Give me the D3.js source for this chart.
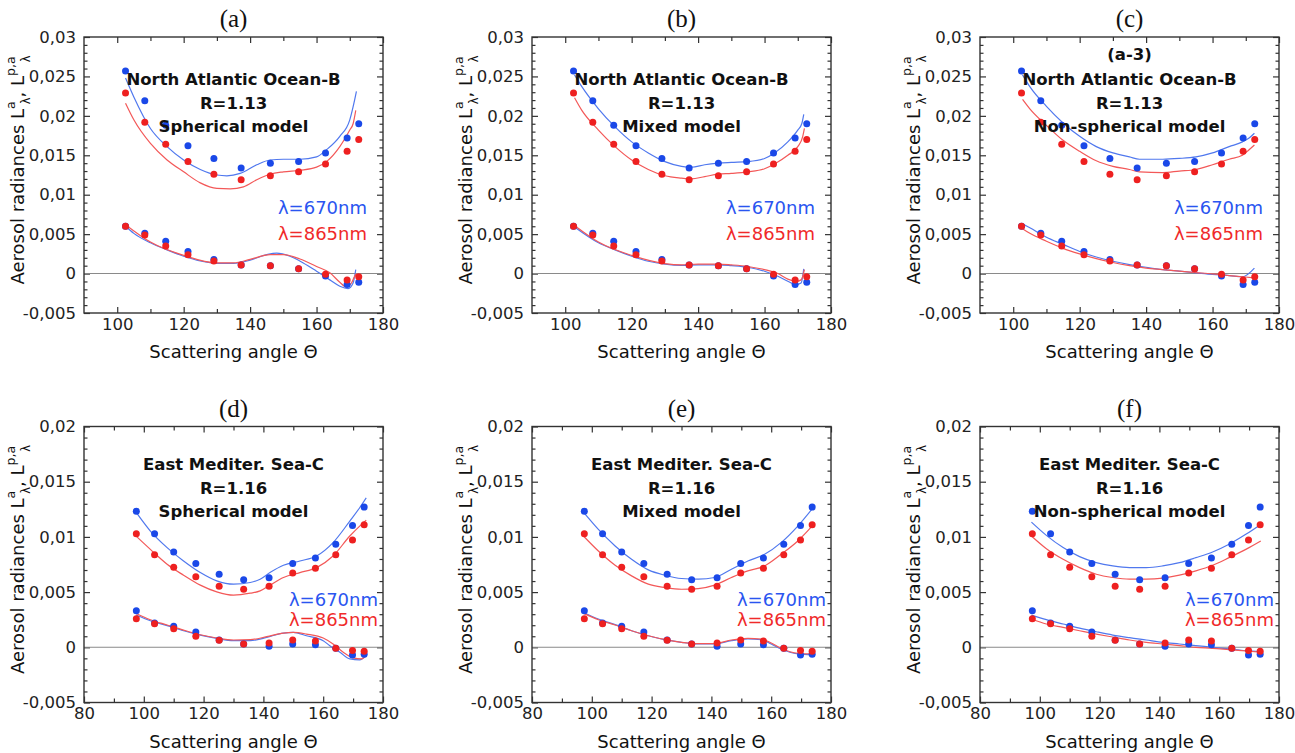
<!DOCTYPE html>
<html>
<head>
<meta charset="utf-8">
<script src="https://cdn.jsdelivr.net/npm/d3@7"></script>
<style>
  body { margin: 0; background: #fff; }
  text { font-family: "DejaVu Sans", sans-serif; }
</style>
</head>
<body>
<script>
// ---------- Measured radiances (dots) ----------
// North Atlantic Ocean-B
const anglesNA = [102.5, 108.3, 114.6, 121.3, 129.1, 137.3, 146.1, 154.6, 162.7, 169.2, 172.7];
const obsNA670 = [0.0257, 0.0219, 0.0188, 0.0162, 0.0146, 0.0134, 0.0140, 0.0142, 0.0153, 0.0172, 0.0190];
const obsNA865 = [0.0229, 0.0192, 0.0164, 0.0142, 0.0126, 0.0119, 0.0124, 0.0129, 0.0139, 0.0155, 0.0170];
const obsNApol670 = [0.0060, 0.0051, 0.0041, 0.0028, 0.0018, 0.0011, 0.0010, 0.0006, -0.0003, -0.0014, -0.0011];
const obsNApol865 = [0.0060, 0.0049, 0.0035, 0.0024, 0.0016, 0.0011, 0.0010, 0.0006, -0.0001, -0.0008, -0.0004];

// East Mediterranean Sea-C
const anglesEM = [97.5, 103.6, 110.0, 117.4, 125.2, 133.4, 141.9, 149.8, 157.4, 164.2, 169.8, 173.7];
const obsEM670 = [0.01233, 0.01029, 0.00863, 0.00758, 0.00662, 0.00611, 0.00629, 0.00758, 0.00809, 0.00933, 0.01104, 0.0127];
const obsEM865 = [0.01029, 0.00839, 0.00725, 0.00638, 0.00554, 0.00526, 0.00554, 0.00674, 0.00716, 0.00839, 0.00972, 0.0111];
const obsEMpol670 = [0.00331, 0.0022, 0.0019, 0.00138, 0.00066, 0.0003, 0.00009, 0.0003, 0.00024, -0.00009, -0.00069, -0.00063];
const obsEMpol865 = [0.00259, 0.00214, 0.00168, 0.00099, 0.00063, 0.0003, 0.00039, 0.00066, 0.00057, -0.00009, -0.0003, -0.00036];

// ---------- Model radiances (lines), [angle, value] ----------
// (a) spherical model
const sphNA670 = [[102.5,0.0248],[105,0.0224],[110,0.0184],[115,0.0161],[120,0.0144],[125,0.0132],[130,0.0125],[133,0.0124],[137,0.0127],[142,0.0138],[146,0.0144],[150,0.0145],[155,0.0145],[160,0.0148],[163,0.0157],[167,0.0174],[170,0.0195],[171.5,0.0221],[172,0.0231]];
const sphNA865 = [[102.5,0.0216],[105,0.0195],[110,0.0165],[115,0.0144],[120,0.0129],[125,0.0115],[130,0.0108],[134,0.01075],[138,0.0110],[142,0.0119],[146,0.0126],[150,0.0129],[155,0.0131],[160,0.0135],[163,0.0142],[167,0.0161],[170,0.0182],[171,0.0190],[171.8,0.0207]];
const sphNApol670 = [[102.5,0.0060],[105,0.0051],[110,0.0039],[115,0.0030],[120,0.0022],[125,0.0016],[130,0.0013],[135,0.0013],[140,0.0017],[145,0.0024],[148,0.0026],[152,0.0022],[156,0.00135],[160,0.0003],[164,-0.0008],[167,-0.0016],[169.5,-0.0019],[171,-0.0012],[171.8,0.0005]];
const sphNApol865 = [[102.5,0.0062],[110,0.0040],[120,0.0023],[130,0.00135],[135,0.00135],[140,0.0018],[146,0.0024],[150,0.0024],[155,0.00185],[160,0.0009],[164,0.0001],[167,-0.0011],[169,-0.0017],[170.5,-0.0012],[171.5,-0.0003],[172,0.0]];
// (b) mixed model
const mixNA670 = [[102.8,0.0252],[105,0.0237],[110,0.0209],[115,0.0186],[120,0.0167],[125,0.0153],[130,0.0142],[135,0.0136],[138,0.01348],[142,0.0138],[146,0.0140],[150,0.0141],[155,0.0142],[160,0.0146],[163,0.0153],[167,0.0167],[170,0.0182],[171.2,0.0190],[171.8,0.0202]];
const mixNA865 = [[102.8,0.0223],[105,0.0207],[110,0.0182],[115,0.0161],[120,0.0144],[125,0.0132],[130,0.0124],[135,0.0121],[138,0.0120],[142,0.0123],[146,0.0126],[150,0.0127],[155,0.0129],[160,0.0133],[163,0.0139],[167,0.0150],[170,0.0161],[171.5,0.0174],[172,0.0184]];
const mixNApol670 = [[102.8,0.0059],[110,0.0039],[115,0.0030],[120,0.0022],[125,0.00156],[130,0.0012],[135,0.00105],[140,0.0011],[146,0.0011],[150,0.0010],[155,0.0008],[160,0.0003],[164,-0.00034],[167,-0.00097],[169.5,-0.0014],[171,-0.0012],[171.8,0.0006]];
const mixNApol865 = [[102.8,0.0061],[110,0.0040],[120,0.0023],[130,0.00126],[135,0.0011],[140,0.0012],[146,0.0012],[150,0.0011],[155,0.0009],[160,0.0005],[164,0.0],[167,-0.0007],[169.5,-0.0010],[171,-0.0008],[172,0.0005]];
// (c) non-spherical model
const nsNA670 = [[102.8,0.0252],[105,0.0237],[110,0.0212],[115,0.0191],[120,0.0174],[125,0.0161],[130,0.0153],[135,0.0148],[138,0.0145],[145,0.0145],[150,0.0146],[155,0.0148],[160,0.0153],[165,0.0161],[169,0.0167],[171,0.0172],[172.6,0.0178]];
const nsNA865 = [[102.8,0.0221],[105,0.0209],[110,0.0188],[115,0.0169],[120,0.0155],[125,0.0143],[130,0.0136],[135,0.0132],[138,0.0129],[145,0.0128],[150,0.0130],[155,0.0132],[160,0.0138],[165,0.0145],[169,0.0150],[171,0.0157],[172.6,0.0163]];
const nsNApol670 = [[102.8,0.0063],[105,0.0058],[110,0.0046],[115,0.0037],[120,0.0028],[125,0.0021],[130,0.00156],[135,0.00114],[140,0.0008],[145,0.0005],[150,0.0003],[155,0.0001],[160,-0.0001],[165,-0.00025],[169,-0.0004],[172.6,0.0007]];
const nsNApol865 = [[102.8,0.0057],[105,0.0051],[110,0.0041],[115,0.0032],[120,0.0025],[125,0.0019],[130,0.0014],[135,0.0010],[140,0.0007],[145,0.0005],[150,0.0003],[155,0.00013],[160,-0.00004],[165,-0.00025],[169,-0.0004],[172.6,-0.00055]];
// (d) spherical model
const sphEM670 = [[97.4,0.01224],[102.2,0.01053],[107.8,0.00903],[113.3,0.00782],[118.9,0.00677],[124.4,0.00602],[130,0.00572],[135.6,0.00587],[138.9,0.00617],[142.2,0.00677],[146.7,0.00743],[152.2,0.00782],[157.8,0.00827],[163.3,0.00948],[168.9,0.01143],[172.2,0.01264],[174.4,0.01354]];
const sphEM865 = [[97.4,0.01008],[102.2,0.00887],[107.8,0.00752],[113.3,0.00653],[118.9,0.00563],[124.4,0.00502],[130,0.00472],[135.6,0.0049],[138.9,0.00511],[142.2,0.00563],[146.7,0.00632],[152.2,0.00677],[157.8,0.00722],[163.3,0.00827],[168.9,0.01008],[172.2,0.01098],[174.4,0.01152]];
const sphEMpol670 = [[97.4,0.00292],[102.2,0.00241],[107.8,0.00196],[113.3,0.0015],[118.9,0.00111],[124.4,0.00081],[130,0.0006],[135.6,0.0006],[141.1,0.0009],[146.7,0.00129],[150,0.00135],[154.4,0.00105],[160,0.0006],[162.2,0.00015],[165.6,-0.00045],[168.9,-0.00105],[172.2,-0.00114],[174.2,-0.00075]];
const sphEMpol865 = [[97.4,0.00307],[102.2,0.0025],[107.8,0.00202],[113.3,0.00156],[118.9,0.00114],[124.4,0.00084],[130,0.00066],[135.6,0.00069],[141.1,0.00096],[146.7,0.00129],[150,0.00135],[154.4,0.0012],[160,0.00084],[163.3,0.0003],[166.7,-0.00045],[170,-0.00096],[172.8,-0.00105],[174.2,-0.00081]];
// (e) mixed model
const mixEM670 = [[97.2,0.01224],[102.2,0.01068],[107.8,0.00918],[113.3,0.00797],[118.9,0.00701],[124.4,0.00653],[130,0.00623],[135.6,0.00617],[141.1,0.00632],[146.7,0.00707],[152.2,0.00782],[157.8,0.00842],[163.3,0.00948],[168.9,0.01098],[173.9,0.0126]];
const mixEM865 = [[97.2,0.01008],[102.2,0.00872],[107.8,0.00743],[113.3,0.00647],[118.9,0.00572],[124.4,0.00542],[130,0.00526],[135.6,0.00532],[141.1,0.00563],[146.7,0.00632],[152.2,0.00692],[157.8,0.00737],[163.3,0.00842],[168.9,0.00963],[173.9,0.01104]];
const mixEMpol670 = [[97.2,0.00316],[102.2,0.00256],[107.8,0.00205],[113.3,0.0015],[118.9,0.00105],[124.4,0.00069],[130,0.00045],[135.6,0.0003],[141.1,0.0003],[146.7,0.0006],[152.2,0.00075],[156.7,0.00069],[160,0.0003],[163.3,-0.00015],[168.9,-0.0006],[173.9,-0.00069]];
const mixEMpol865 = [[97.2,0.00307],[102.2,0.0025],[107.8,0.00202],[113.3,0.0015],[118.9,0.00105],[124.4,0.00072],[130,0.00045],[135.6,0.00033],[141.1,0.00033],[146.7,0.00066],[152.2,0.00081],[156.7,0.00075],[160,0.00039],[163.3,-0.00009],[168.9,-0.00054],[173.9,-0.0006]];
// (f) non-spherical model
const nsEM670 = [[97.2,0.01134],[102.2,0.01014],[107.8,0.00903],[113.3,0.00821],[118.9,0.00767],[124.4,0.00737],[130,0.00722],[135.6,0.00722],[141.1,0.00737],[146.7,0.00767],[152.2,0.00812],[157.8,0.00863],[163.3,0.00933],[168.9,0.01023],[173.9,0.01113]];
const nsEM865 = [[97.2,0.01008],[102.2,0.00893],[107.8,0.00797],[113.3,0.00722],[118.9,0.00662],[124.4,0.00632],[130,0.00617],[135.6,0.00617],[141.1,0.00626],[146.7,0.00653],[152.2,0.00692],[157.8,0.00743],[163.3,0.00812],[168.9,0.00887],[173.9,0.00963]];
const nsEMpol670 = [[97.2,0.00292],[102.2,0.0025],[107.8,0.00211],[113.3,0.00174],[118.9,0.00141],[124.4,0.00111],[130,0.00087],[135.6,0.00066],[141.1,0.00045],[146.7,0.0003],[152.2,0.00015],[157.8,0],[163.3,-0.00015],[168.9,-0.0003],[173.9,-0.00039]];
const nsEMpol865 = [[97.2,0.00256],[102.2,0.00211],[107.8,0.0018],[113.3,0.0015],[118.9,0.0012],[124.4,0.00093],[130,0.00066],[135.6,0.00045],[141.1,0.0003],[146.7,0.00015],[152.2,0],[157.8,-0.00009],[163.3,-0.00021],[168.9,-0.00033],[173.9,-0.00045]];

// ---------- Axis ticks ----------
const xMajorNA = [100, 120, 140, 160, 180];
const xMinorNA = [110, 130, 150, 170];
const xMajorEM = [80, 100, 120, 140, 160, 180];
const xMinorEM = [90, 110, 130, 150, 170];
const yMajorNA = [-0.005, 0, 0.005, 0.01, 0.015, 0.02, 0.025, 0.03];
const yMajorEM = [-0.005, 0, 0.005, 0.01, 0.015, 0.02];

// ---------- Labels ----------
const panelTags = ["(a)", "(b)", "(c)", "(d)", "(e)", "(f)"];
const modelNames = ["Spherical model", "Mixed model", "Non-spherical model"];
const siteNA = "North Atlantic Ocean-B", ratioNA = "R=1.13";
const siteEM = "East Mediter. Sea-C", ratioEM = "R=1.16";
const legend670 = "λ=670nm", legend865 = "λ=865nm";

// ---------- Colors ----------
const blueDot = "#1a48e8", redDot = "#ee2020";
const blueLine = "#5078ee", redLine = "#f35858";
const blueText = "#2a55f0", redText = "#f02a2a";

// ---------- Layout ----------
const svg = d3.select("body").append("svg").attr("width", 1295).attr("height", 753);
const colLeft = [84, 532, 980];
const rowTop = [37, 426.5];
const pw = 299, ph = 276;

const locale = d3.formatLocale({decimal: ",", thousands: ".", grouping: [3], currency: ["", ""], minus: "-"});
const fmt = locale.format("~f");

const naCurves = [
  [sphNA670, sphNA865, sphNApol670, sphNApol865],
  [mixNA670, mixNA865, mixNApol670, mixNApol865],
  [nsNA670, nsNA865, nsNApol670, nsNApol865]
];
const emCurves = [
  [sphEM670, sphEM865, sphEMpol670, sphEMpol865],
  [mixEM670, mixEM865, mixEMpol670, mixEMpol865],
  [nsEM670, nsEM865, nsEMpol670, nsEMpol865]
];

const panels = [];
for (let c = 0; c < 3; c++) {
  panels.push({
    tag: panelTags[c], col: c, row: 0, xDom: [90, 180], yDom: [-0.005, 0.03],
    xMajor: xMajorNA, xMinor: xMinorNA, yMajor: yMajorNA,
    angles: anglesNA, obs: [obsNA670, obsNA865, obsNApol670, obsNApol865],
    curves: naCurves[c], site: siteNA, ratio: ratioNA, model: modelNames[c],
    extra: c === 2 ? "(a-3)" : null, textBase: 48, legendBase: [177, 203], legendInset: 16
  });
}
for (let c = 0; c < 3; c++) {
  panels.push({
    tag: panelTags[3 + c], col: c, row: 1, xDom: [80, 180], yDom: [-0.005, 0.02],
    xMajor: xMajorEM, xMinor: xMinorEM, yMajor: yMajorEM,
    angles: anglesEM, obs: [obsEM670, obsEM865, obsEMpol670, obsEMpol865],
    curves: emCurves[c], site: siteEM, ratio: ratioEM, model: modelNames[c],
    extra: null, textBase: 43.5, legendBase: [179.5, 199.5], legendInset: 5
  });
}

panels.forEach(p => {
  const left = colLeft[p.col], top = rowTop[p.row];
  const x = d3.scaleLinear().domain(p.xDom).range([left, left + pw]);
  const y = d3.scaleLinear().domain(p.yDom).range([top + ph, top]);
  const g = svg.append("g");

  // minor y ticks every 0.001
  const yMinor = d3.range(Math.round(p.yDom[0] * 1000), Math.round(p.yDom[1] * 1000) + 1)
    .map(v => v / 1000).filter(v => Math.abs(Math.round(v * 200) - v * 200) > 1e-6);

  const tickStyle = sel => {
    sel.select(".domain").remove();
    sel.selectAll(".tick line").attr("stroke", "#333").attr("stroke-width", 1.2);
    sel.selectAll(".tick text").attr("fill", "#222")
      .style("font-family", "'DejaVu Sans', sans-serif").style("font-size", "16.5px");
  };

  // bottom axis with labels
  g.append("g").attr("transform", `translate(0,${top + ph})`)
    .call(d3.axisBottom(x).tickValues(p.xMajor).tickSizeInner(-6).tickSizeOuter(0).tickPadding(5.2).tickFormat(fmt))
    .call(tickStyle);
  g.append("g").attr("transform", `translate(0,${top + ph})`)
    .call(d3.axisBottom(x).tickValues(p.xMinor).tickSizeInner(-4).tickSizeOuter(0).tickFormat(""))
    .call(tickStyle);
  // top axis, ticks only
  g.append("g").attr("transform", `translate(0,${top})`)
    .call(d3.axisTop(x).tickValues(p.xMajor).tickSizeInner(-6).tickSizeOuter(0).tickFormat(""))
    .call(tickStyle);
  g.append("g").attr("transform", `translate(0,${top})`)
    .call(d3.axisTop(x).tickValues(p.xMinor).tickSizeInner(-4).tickSizeOuter(0).tickFormat(""))
    .call(tickStyle);
  // left axis with labels
  g.append("g").attr("transform", `translate(${left},0)`)
    .call(d3.axisLeft(y).tickValues(p.yMajor).tickSizeInner(-6).tickSizeOuter(0).tickPadding(8).tickFormat(fmt))
    .call(tickStyle);
  g.append("g").attr("transform", `translate(${left},0)`)
    .call(d3.axisLeft(y).tickValues(yMinor).tickSizeInner(-3.5).tickSizeOuter(0).tickFormat(""))
    .call(tickStyle);
  // right axis, ticks only
  g.append("g").attr("transform", `translate(${left + pw},0)`)
    .call(d3.axisRight(y).tickValues(p.yMajor).tickSizeInner(-6).tickSizeOuter(0).tickFormat(""))
    .call(tickStyle);
  g.append("g").attr("transform", `translate(${left + pw},0)`)
    .call(d3.axisRight(y).tickValues(yMinor).tickSizeInner(-3.5).tickSizeOuter(0).tickFormat(""))
    .call(tickStyle);

  // zero line
  g.append("line").attr("x1", left).attr("x2", left + pw).attr("y1", y(0)).attr("y2", y(0))
    .attr("stroke", "#8a8a8a").attr("stroke-width", 1.1);

  // frame
  g.append("rect").attr("x", left).attr("y", top).attr("width", pw).attr("height", ph)
    .attr("fill", "none").attr("stroke", "#333").attr("stroke-width", 1.4);

  // model curves
  const line = d3.line().x(d => x(d[0])).y(d => y(d[1])).curve(d3.curveMonotoneX);
  const lineColors = [blueLine, redLine, blueLine, redLine];
  p.curves.forEach((cv, i) => {
    g.append("path").datum(cv).attr("d", line).attr("fill", "none")
      .attr("stroke", lineColors[i]).attr("stroke-width", 1.2);
  });

  // measured points (865 drawn over 670)
  const dotColors = [blueDot, redDot, blueDot, redDot];
  [0, 2, 1, 3].forEach(i => {
    g.selectAll(null).data(p.angles.map((a, k) => [a, p.obs[i][k]])).join("circle")
      .attr("cx", d => x(d[0])).attr("cy", d => y(d[1])).attr("r", 3.5)
      .attr("fill", dotColors[i]);
  });

  const cx = left + pw / 2;
  // panel tag
  svg.append("text").attr("x", cx).attr("y", top - 10).attr("text-anchor", "middle")
    .style("font-family", "'Liberation Serif', 'Times New Roman', serif").style("font-size", "25px")
    .attr("fill", "#111").text(p.tag);

  // annotation block
  const ann = svg.append("g").attr("font-weight", "bold").attr("fill", "#111")
    .style("font-size", "16.5px").attr("text-anchor", "middle");
  if (p.extra) ann.append("text").attr("x", cx).attr("y", top + 23).text(p.extra);
  [p.site, p.ratio, p.model].forEach((t, i) => {
    ann.append("text").attr("x", cx).attr("y", top + p.textBase + i * 23.5).text(t);
  });

  // wavelength legend
  svg.append("text").attr("x", left + pw - p.legendInset).attr("y", top + p.legendBase[0])
    .attr("text-anchor", "end").style("font-size", "18px").attr("fill", blueText).text(legend670);
  svg.append("text").attr("x", left + pw - p.legendInset).attr("y", top + p.legendBase[1])
    .attr("text-anchor", "end").style("font-size", "18px").attr("fill", redText).text(legend865);

  // x axis title
  svg.append("text").attr("x", cx).attr("y", top + ph + 45).attr("text-anchor", "middle")
    .style("font-size", "18px").attr("fill", "#111").text("Scattering angle Θ");

  // y axis title with super/subscripts
  const yt = svg.append("text")
    .attr("transform", `translate(${left - 60},${top + ph / 2 - 5}) rotate(-90)`)
    .attr("text-anchor", "middle").style("font-size", "18px").attr("fill", "#111");
  yt.append("tspan").text("Aerosol radiances L");
  yt.append("tspan").attr("dy", -9).style("font-size", "12.5px").text("a");
  yt.append("tspan").attr("dx", -3).attr("dy", 15).style("font-size", "11.5px").text("λ");
  yt.append("tspan").attr("dy", -6).text(", L");
  yt.append("tspan").attr("dy", -9).style("font-size", "12.5px").text("p,a");
  yt.append("tspan").attr("dx", -6).attr("dy", 15).style("font-size", "11.5px").text("λ");
});
</script>
</body>
</html>
